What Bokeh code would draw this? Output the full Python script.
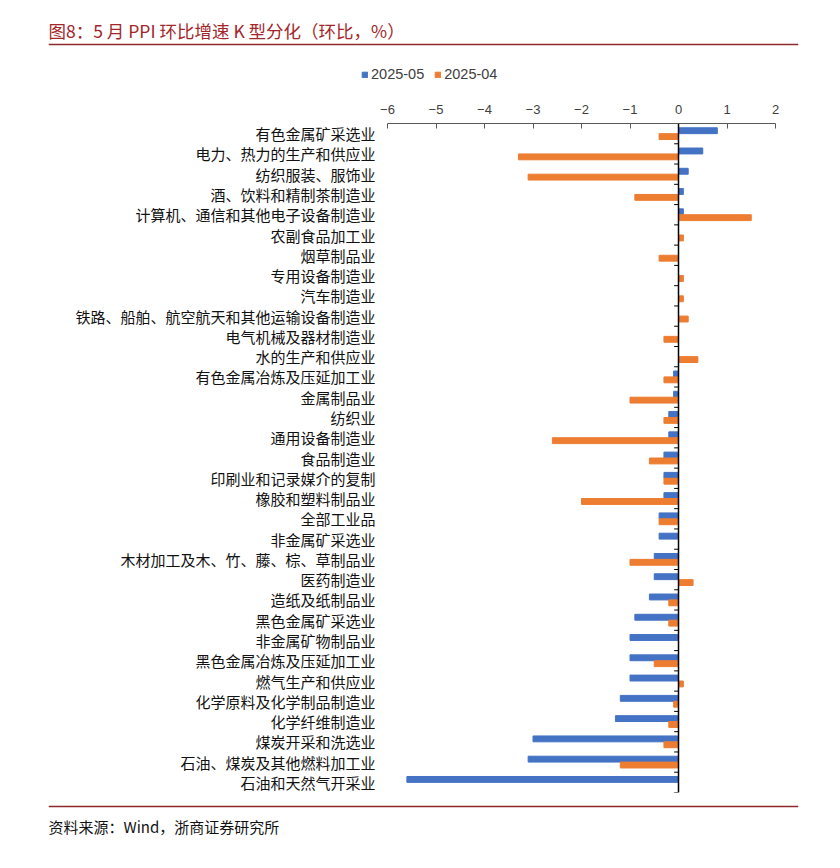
from bokeh.plotting import figure
from bokeh.models import (FactorRange, Range1d, FixedTicker, Span, Label, Legend, LegendItem,
                          ColumnDataSource)
from bokeh.transform import dodge
from bokeh.layouts import column
from bokeh.embed import file_html
from bokeh.resources import INLINE

categories = [
    "有色金属矿采选业", "电力、热力的生产和供应业", "纺织服装、服饰业", "酒、饮料和精制茶制造业",
    "计算机、通信和其他电子设备制造业", "农副食品加工业", "烟草制品业", "专用设备制造业", "汽车制造业",
    "铁路、船舶、航空航天和其他运输设备制造业", "电气机械及器材制造业", "水的生产和供应业",
    "有色金属冶炼及压延加工业", "金属制品业", "纺织业", "通用设备制造业", "食品制造业",
    "印刷业和记录媒介的复制", "橡胶和塑料制品业", "全部工业品", "非金属矿采选业",
    "木材加工及木、竹、藤、棕、草制品业", "医药制造业", "造纸及纸制品业", "黑色金属矿采选业",
    "非金属矿物制品业", "黑色金属冶炼及压延加工业", "燃气生产和供应业", "化学原料及化学制品制造业",
    "化学纤维制造业", "煤炭开采和洗选业", "石油、煤炭及其他燃料加工业", "石油和天然气开采业",
]
may_2025 = [0.8, 0.5, 0.2, 0.1, 0.1, 0, 0, 0, 0, 0, 0, 0, -0.1, -0.1, -0.2, -0.2, -0.3, -0.3,
            -0.3, -0.4, -0.4, -0.5, -0.5, -0.6, -0.9, -1.0, -1.0, -1.0, -1.2, -1.3, -3.0, -3.1, -5.6]
apr_2025 = [-0.4, -3.3, -3.1, -0.9, 1.5, 0.1, -0.4, 0.1, 0.1, 0.2, -0.3, 0.4, -0.3, -1.0, -0.3,
            -2.6, -0.6, -0.3, -2.0, -0.4, 0, -1.0, 0.3, -0.2, -0.2, 0, -0.5, 0.1, -0.1, -0.2, -0.3, -1.2, 0]
series_names = ["2025-05", "2025-04"]
x_ticks = [-6, -5, -4, -3, -2, -1, 0, 1, 2]
title_text = "图8：5 月 PPI 环比增速 K 型分化（环比，%）"
source_text = "资料来源：Wind，浙商证券研究所"

BLUE = "#4472C4"
ORANGE = "#ED7D31"
RED = "#8E2A2B"
CJK = "Noto Sans CJK SC"
W = 824
HEAD_H, MAIN_H, FOOT_H = 95, 705, 57
RULE_L, RULE_R = 48, 798


def deco_fig(h):
    f = figure(width=W, height=h, x_range=Range1d(0, RULE_R - RULE_L), y_range=Range1d(h, 0),
               x_axis_type=None, y_axis_type=None, toolbar_location=None, output_backend="svg",
               min_border_left=RULE_L, min_border_right=W - RULE_R, min_border_top=0,
               min_border_bottom=0, frame_align=False)
    f.outline_line_color = None
    return f


idx = list(range(len(categories)))

# ---------- header: title, rule, legend ----------
header = deco_fig(HEAD_H)
header.add_layout(Label(x=0, y=30, text=title_text, text_baseline="middle", text_align="left",
                        text_font=CJK, text_font_size="17.5px", text_color="#A3262A"))
header.add_layout(Span(location=44, dimension="width", line_color=RED, line_width=1.5))
# hidden twins of the two bar series, used only to draw the legend swatches
r_may = header.hbar(y=idx, right=may_2025, height=0.29, color=BLUE, visible=False)
r_apr = header.hbar(y=idx, right=apr_2025, height=0.29, color=ORANGE, visible=False)
legend = Legend(items=[LegendItem(label=series_names[0], renderers=[r_may]),
                       LegendItem(label=series_names[1], renderers=[r_apr])],
                orientation="horizontal", location=(361 - RULE_L, 13), glyph_width=7, glyph_height=7,
                label_standoff=3, spacing=10, padding=0, margin=0, border_line_color=None,
                background_fill_alpha=0, inactive_fill_alpha=0, label_text_font="Liberation Sans",
                label_text_font_size="14.5px", label_text_color="#404040", label_height=15)
header.add_layout(legend)

# ---------- main chart ----------
F_LEFT, F_RIGHT = 387, 775
src = ColumnDataSource(dict(cat=categories, may=may_2025, apr=apr_2025))
p = figure(width=W, height=MAIN_H, y_range=FactorRange(factors=categories[::-1]),
           x_range=Range1d(x_ticks[0], x_ticks[-1]), x_axis_location="above",
           toolbar_location=None, output_backend="svg", frame_align=False,
           min_border_left=F_LEFT, min_border_right=W - F_RIGHT, min_border_top=28, min_border_bottom=8)
p.outline_line_color = None
p.grid.visible = False

p.hbar(y=dodge("cat", 0.145, range=p.y_range), right="may", left=0, height=0.29, color=BLUE, source=src)
p.hbar(y=dodge("cat", -0.145, range=p.y_range), right="apr", left=0, height=0.29, color=ORANGE, source=src)
p.add_layout(Span(location=0, dimension="height", line_color="black", line_width=1.5))
bounds = list(range(len(categories) + 1))
p.segment(x0=[-0.09] * len(bounds), x1=[0] * len(bounds), y0=bounds, y1=bounds,
          line_color="black", line_width=1)

xa = p.xaxis[0]
xa.ticker = FixedTicker(ticks=x_ticks)
xa.minor_tick_line_color = None
xa.major_tick_in = 5
xa.major_tick_out = 0
xa.axis_line_color = "#595959"
xa.major_tick_line_color = "#595959"
xa.major_label_text_font = "Liberation Sans"
xa.major_label_text_font_size = "13px"
xa.major_label_text_color = "#404040"
xa.major_label_standoff = 10

ya = p.yaxis[0]
ya.axis_line_color = None
ya.major_tick_line_color = None
ya.minor_tick_line_color = None
ya.major_tick_out = 0
ya.major_tick_in = 0
ya.major_label_standoff = 12
ya.major_label_text_font = CJK
ya.major_label_text_font_size = "15px"
ya.major_label_text_color = "#111111"

# ---------- footer: rule, source ----------
footer = deco_fig(FOOT_H)
footer.add_layout(Span(location=6, dimension="width", line_color=RED, line_width=1.5))
footer.add_layout(Label(x=0, y=26, text=source_text, text_baseline="middle", text_align="left",
                        text_font=CJK, text_font_size="15px", text_color="#111111"))

layout = column(header, p, footer, spacing=0)
open("out.html", "w").write(file_html(layout, INLINE))
